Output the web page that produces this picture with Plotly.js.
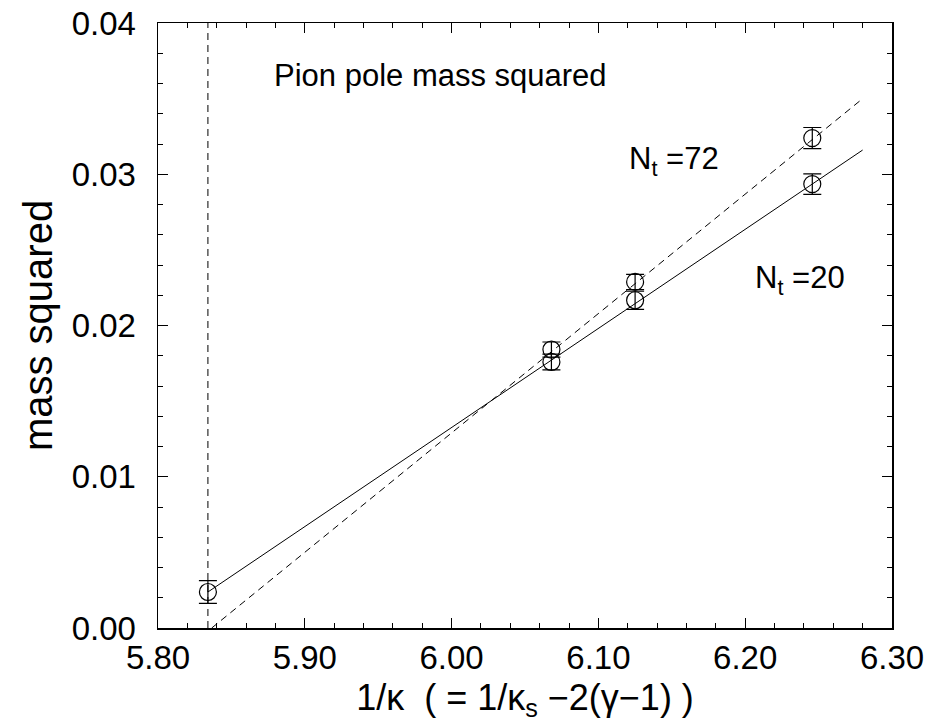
<!DOCTYPE html>
<html>
<head>
<meta charset="utf-8">
<script src="https://cdn.plot.ly/plotly-3.0.1.min.js"></script>
<style>body{margin:0;padding:0;background:#fff;} #chart{width:930px;height:727px;}</style>
</head>
<body>
<div id="chart"></div>
<script>
// Data
var xNt20 = [5.834, 6.068, 6.125, 6.2457];
var yNt20 = [0.00238, 0.01759, 0.02167, 0.02935];
var eNt20 = [0.00075, 0.00052, 0.00060, 0.00068];

var xNt72 = [6.068, 6.125, 6.2457];
var yNt72 = [0.01841, 0.02288, 0.03239];
var eNt72 = [0.00050, 0.00050, 0.00070];

var fitX20 = [5.834, 6.280];
var fitY20 = [0.00238, 0.0316];
var fitX72 = [5.8366, 6.280];
var fitY72 = [0.0, 0.0350];

var kcX = [5.834, 5.834];
var kcY = [0.0, 0.04];

var xTitle = "1/κ&nbsp;&nbsp;( = 1/κ<sub>s</sub> −2(γ−1) )";
var yTitle = "mass squared";
var labelTitle = "Pion pole mass squared";
var label72 = "N<sub>t</sub> =72";
var label20 = "N<sub>t</sub> =20";

var FONT = "Liberation Sans, Arial, Helvetica, sans-serif";

var traces = [
  {x: kcX, y: kcY, mode: 'lines', line: {color: '#000', width: 1, dash: '7px,5px'}, showlegend: false, hoverinfo: 'skip'},
  {x: fitX20, y: fitY20, mode: 'lines', line: {color: '#000', width: 1}, showlegend: false},
  {x: fitX72, y: fitY72, mode: 'lines', line: {color: '#000', width: 1, dash: '7px,5px'}, showlegend: false},
  {x: xNt20, y: yNt20, mode: 'markers', type: 'scatter',
   marker: {symbol: 'circle-open', size: 17, color: '#000', line: {width: 1.2, color: '#000'}},
   error_y: {type: 'data', array: eNt20, visible: true, color: '#000', thickness: 1.2, width: 9},
   showlegend: false},
  {x: xNt72, y: yNt72, mode: 'markers', type: 'scatter',
   marker: {symbol: 'circle-open', size: 17, color: '#000', line: {width: 1.2, color: '#000'}},
   error_y: {type: 'data', array: eNt72, visible: true, color: '#000', thickness: 1.2, width: 9},
   showlegend: false}
];

var layout = {
  width: 930, height: 727,
  margin: {l: 158, r: 38, t: 23, b: 99},
  paper_bgcolor: '#fff', plot_bgcolor: '#fff',
  font: {family: FONT, color: '#000', size: 33},
  xaxis: {
    range: [5.80, 6.30], dtick: 0.1, tick0: 5.8, tickformat: '.2f',
    ticks: 'inside', ticklen: 10, tickwidth: 1, tickcolor: '#000',
    minor: {dtick: 0.02, ticks: 'inside', ticklen: 5, tickwidth: 1, tickcolor: '#000', showgrid: false},
    showline: true, linecolor: '#000', linewidth: 1.5, mirror: 'ticks',
    showgrid: false, zeroline: false,
    tickfont: {family: FONT, size: 33},
    title: {text: xTitle, font: {family: FONT, size: 36}, standoff: 9}
  },
  yaxis: {
    range: [0, 0.04], dtick: 0.01, tick0: 0, tickformat: '.2f',
    ticks: 'inside', ticklen: 10, tickwidth: 1, tickcolor: '#000',
    minor: {dtick: 0.002, ticks: 'inside', ticklen: 5, tickwidth: 1, tickcolor: '#000', showgrid: false},
    showline: true, linecolor: '#000', linewidth: 1.5, mirror: 'ticks',
    showgrid: false, zeroline: false, ticklabelstandoff: 14,
    tickfont: {family: FONT, size: 33},
    title: {text: yTitle, font: {family: FONT, size: 40}, standoff: 6}
  },
  annotations: [
    {x: 5.8777, y: 0.0365, xref: 'x', yref: 'y', text: labelTitle, showarrow: false, xanchor: 'left', yanchor: 'middle', font: {family: FONT, size: 31}},
    {x: 6.1195, y: 0.0309, xref: 'x', yref: 'y', text: label72, showarrow: false, xanchor: 'left', yanchor: 'middle', font: {family: FONT, size: 31}},
    {x: 6.2053, y: 0.0230, xref: 'x', yref: 'y', text: label20, showarrow: false, xanchor: 'left', yanchor: 'middle', font: {family: FONT, size: 31}}
  ]
};

Plotly.newPlot('chart', traces, layout, {displayModeBar: false, staticPlot: true});
</script>
</body>
</html>
